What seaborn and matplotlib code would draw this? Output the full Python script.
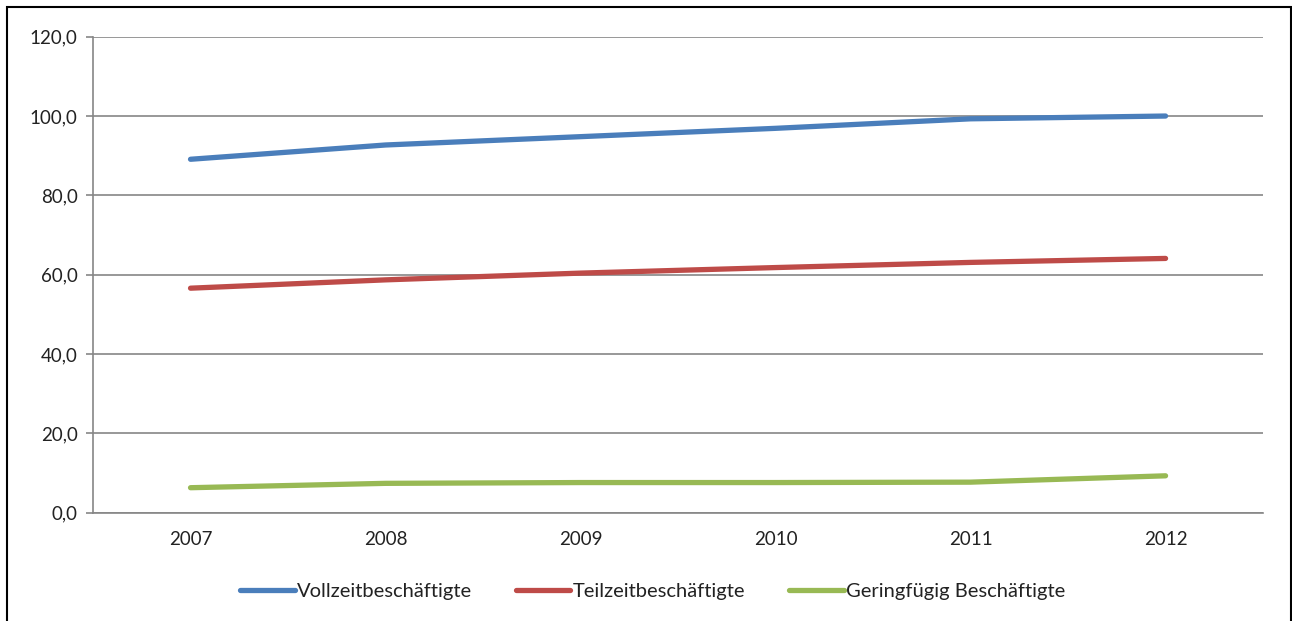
import numpy as np
import pandas as pd
import matplotlib.pyplot as plt
import seaborn as sns
from matplotlib.ticker import FuncFormatter, FixedLocator
from matplotlib.patches import Rectangle

years = ['2007', '2008', '2009', '2010', '2011', '2012']
vollzeit = [89.1, 92.7, 94.8, 96.9, 99.3, 100.0]
teilzeit = [56.6, 58.7, 60.4, 61.8, 63.1, 64.1]
geringfuegig = [6.3, 7.4, 7.6, 7.6, 7.7, 9.3]
series_names = ['Vollzeitbeschäftigte', 'Teilzeitbeschäftigte', 'Geringfügig Beschäftigte']
colors = ['#4A7EBB', '#BE4B48', '#98B954']

df = pd.DataFrame({'Jahr': years * 3,
                   'Wert': vollzeit + teilzeit + geringfuegig,
                   'Reihe': np.repeat(series_names, len(years))})

sns.set_style('white')
plt.rcParams['font.family'] = ['Lato', 'DejaVu Sans']

fig = plt.figure(figsize=(12.92, 6.21), dpi=100)
ax = fig.add_axes([0.072, 0.1744, 0.9056, 0.7665])

sns.lineplot(data=df, x='Jahr', y='Wert', hue='Reihe', palette=colors,
             linewidth=3.8, sort=False, ax=ax, legend=False,
             solid_capstyle='round')

ax.set_xlim(-0.5, 5.5)
ax.set_ylim(0, 120)
ax.set_yticks(np.arange(0, 121, 20))
ax.yaxis.set_major_formatter(FuncFormatter(lambda v, p: f'{v:.1f}'.replace('.', ',')))
ax.set_xticks(range(len(years)))
ax.set_xticklabels(years)
ax.xaxis.set_minor_locator(FixedLocator(np.arange(-0.5, 6, 1)))
ax.tick_params(axis='x', which='major', length=0, pad=13, labelsize=13.5, colors='#222222')
ax.tick_params(axis='x', which='minor', length=6, width=1.2, color='#868686', direction='out')
ax.tick_params(axis='y', length=5, width=1.2, color='#868686', pad=6, labelsize=13.5,
               labelcolor='#222222', left=True)
ax.grid(axis='y', color='#868686', linewidth=1.2)
ax.set_axisbelow(True)
for s in ['top', 'right']:
    ax.spines[s].set_visible(False)
for s in ['left', 'bottom']:
    ax.spines[s].set_color('#868686')
    ax.spines[s].set_linewidth(1.2)
ax.set_xlabel('')
ax.set_ylabel('')

handles = [plt.Line2D([], [], color=c, linewidth=3.8, solid_capstyle='round') for c in colors]
fig.legend(handles, series_names, loc='center', bbox_to_anchor=(0.505, 0.048), ncol=3,
           frameon=False, handlelength=2.7, handletextpad=0.1, columnspacing=2.2,
           fontsize=14.5, labelcolor='#222222')

fig.patches.append(Rectangle((0.0055, -0.01), 0.9935, 0.9985, transform=fig.transFigure,
                             fill=False, edgecolor='black', linewidth=1.5))

fig.savefig('out.png', dpi=100)
